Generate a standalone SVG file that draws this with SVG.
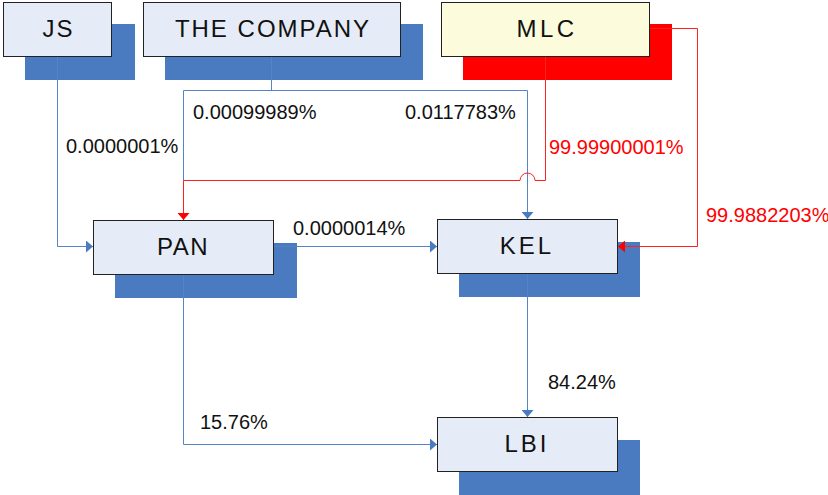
<svg xmlns="http://www.w3.org/2000/svg" width="828" height="495" viewBox="0 0 828 495">
<style>
.shadow{fill:#4A7AC0}
.shadow.red{fill:#FF0000}
.box{fill:#E6ECF7;stroke:#222;stroke-width:1}
.box.mlc{fill:#FCFCDC}
.nl{font-family:"Liberation Sans",Arial,sans-serif;font-size:24px;fill:#111;text-anchor:middle}
.el{font-family:"Liberation Sans",Arial,sans-serif;font-size:20px;fill:#111}
.el.red{fill:#FF0000}
.cb{fill:none;stroke:#5583C4;stroke-width:1}
.cr{fill:none;stroke:#FF2020;stroke-width:1}
</style>
<defs>
<marker id="ab" markerUnits="userSpaceOnUse" viewBox="0 0 7 12" refX="7" refY="6" markerWidth="7" markerHeight="12" orient="auto"><path d="M0,0 L7,6 L0,12 z" fill="#4A7AC0"/></marker>
<marker id="ar" markerUnits="userSpaceOnUse" viewBox="0 0 7 12" refX="7" refY="6" markerWidth="7" markerHeight="12" orient="auto"><path d="M0,0 L7,6 L0,12 z" fill="#FF0000"/></marker>
</defs>
<g id="JS"><rect class="shadow" x="25" y="24" width="110" height="56"/><rect class="box" x="3.5" y="2.5" width="108" height="54"/><text class="nl" x="58.5" y="37" letter-spacing="2">JS</text></g>
<g id="THE_COMPANY"><rect class="shadow" x="165" y="24" width="258" height="56"/><rect class="box" x="143.5" y="2.5" width="257" height="54"/><text class="nl" x="273" y="37" letter-spacing="2">THE COMPANY</text></g>
<g id="MLC"><rect class="shadow red" x="463" y="24" width="209" height="56"/><rect class="box mlc" x="441.5" y="2.5" width="208" height="54"/><text class="nl" x="547" y="37" letter-spacing="3.5">MLC</text></g>
<g id="PAN"><rect class="shadow" x="115" y="243" width="182" height="55"/><rect class="box" x="93.5" y="220.5" width="180" height="54"/><text class="nl" x="183" y="255" letter-spacing="1.5">PAN</text></g>
<g id="KEL"><rect class="shadow" x="459" y="242" width="181" height="55"/><rect class="box" x="437.5" y="219.5" width="180" height="54"/><text class="nl" x="527" y="254" letter-spacing="3">KEL</text></g>
<g id="LBI"><rect class="shadow" x="459" y="440" width="181" height="55"/><rect class="box" x="437.5" y="417.5" width="180" height="54"/><text class="nl" x="527" y="452" letter-spacing="3">LBI</text></g>
<g id="connectors">
<path class="cb" d="M57.5 57 V246.5 H93" marker-end="url(#ab)"/>
<path class="cb" d="M271.5 57 V90.5"/>
<path class="cb" d="M183.5 90.5 H527.5"/>
<path class="cb" d="M183.5 90.5 V180.5"/>
<path class="cb" d="M527.5 90.5 V219" marker-end="url(#ab)"/>
<path class="cr" d="M545.5 57 V180.5 H535 A7.5 7.5 0 0 0 520 180.5 H183.5 V220" marker-end="url(#ar)"/>
<path class="cb" d="M274 246.5 H437" marker-end="url(#ab)"/>
<path class="cr" d="M650 28.5 H697.5 V246.5 H618" marker-end="url(#ar)"/>
<path class="cb" d="M527.5 274 V417" marker-end="url(#ab)"/>
<path class="cb" d="M183.5 275 V444.5 H437" marker-end="url(#ab)"/>
<text class="el" x="66" y="153">0.0000001%</text>
<text class="el" x="193" y="119">0.00099989%</text>
<text class="el" x="405" y="119">0.0117783%</text>
<text class="el red" x="549" y="154">99.99900001%</text>
<text class="el" x="293" y="235">0.0000014%</text>
<text class="el red" x="706" y="222">99.9882203%</text>
<text class="el" x="548" y="389">84.24%</text>
<text class="el" x="200" y="429">15.76%</text>
</g>
</svg>
